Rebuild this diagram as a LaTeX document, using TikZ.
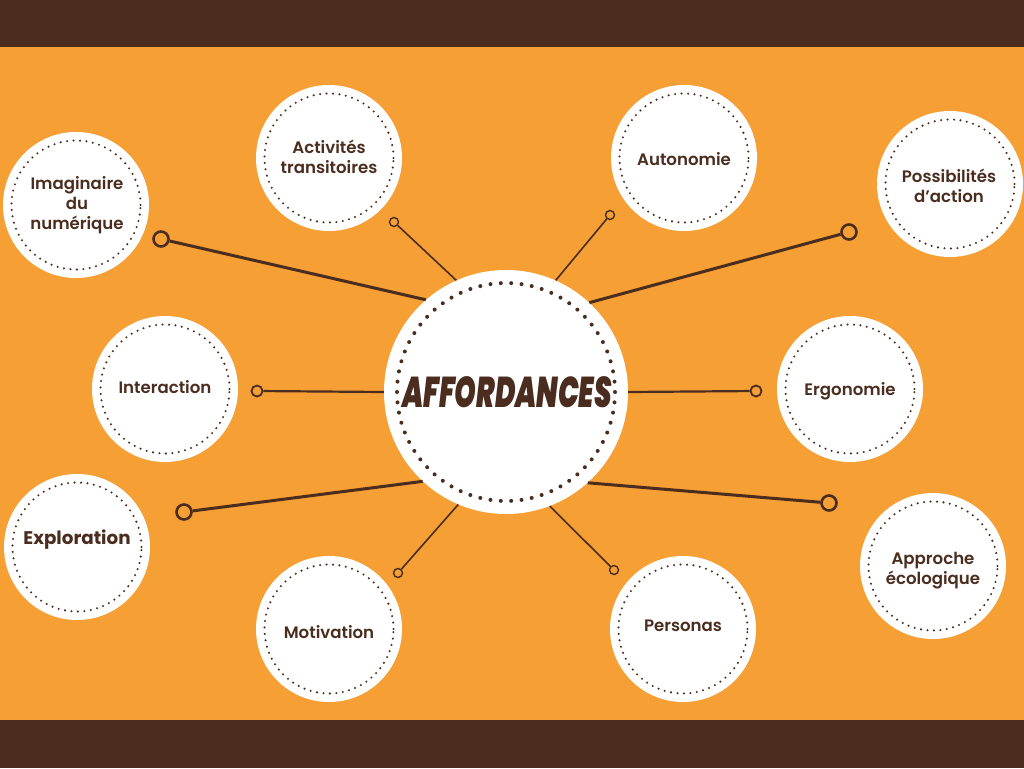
\documentclass[tikz,border=0pt]{standalone}
\usepackage{fontspec}
\usepackage{graphicx}
\setmainfont{Poppins}[UprightFont=*-Medium, BoldFont=*-SemiBold]
\newfontfamily\heavyfont{Poppins}[UprightFont=*-Bold]
\newfontfamily\brushfont{Poppins}[UprightFont=*-BlackItalic]
\definecolor{bark}{HTML}{4B2D1F}
\definecolor{amber}{HTML}{F59F34}

\begin{document}
\begin{tikzpicture}[x=1pt,y=-1pt,
  bubble/.style={circle, fill=white, minimum size=146pt, inner sep=0pt},
  caption/.style={align=center, text=bark, inner sep=0pt,
    font=\bfseries\fontsize{16.6}{19.8}\selectfont},
  hub/.style={circle, fill=white, minimum size=244pt, inner sep=0pt},
  ring/.style={draw=bark, line width=2.3pt, line cap=round, dash pattern=on 0pt off 6.486pt},
  hubring/.style={draw=bark, line width=4pt, line cap=round, dash pattern=on 0pt off 10.377pt},
  heavyspoke/.style={draw=bark, line width=3pt},
  midspoke/.style={draw=bark, line width=2.2pt},
  lightspoke/.style={draw=bark, line width=1.6pt},
  bigknob/.style={circle, draw=bark, line width=2.6pt, fill=amber, minimum size=15pt, inner sep=0pt},
  midknob/.style={circle, draw=bark, line width=1.8pt, fill=amber, minimum size=11pt, inner sep=0pt},
  smallknob/.style={circle, draw=bark, line width=1.4pt, fill=amber, minimum size=9pt, inner sep=0pt},
]
\useasboundingbox (0,0) rectangle (1024,768);

% background bands
\fill[amber] (0,47) rectangle (1024,720);
\fill[bark] (0,0) rectangle (1024,47);
\fill[bark] (0,720) rectangle (1024,768);

% central hub
\node[hub] (hub) at (506,392) {};
\draw[hubring] (hub.center) circle[radius=109pt];
\node[text=bark, font=\brushfont\fontsize{43}{43}\selectfont] (title) at (507,392)
  {\scalebox{0.64}[1]{AFFORDANCES}};

% satellite bubbles
\node[bubble] (imag)  at (76,205)  {};
\node[bubble] (activ) at (329,158) {};
\node[bubble] (auto)  at (684,158) {};
\node[bubble] (poss)  at (950,184) {};
\node[bubble] (inter) at (165,389) {};
\node[bubble] (ergo)  at (850,389) {};
\node[bubble] (explo) at (77,547)  {};
\node[bubble] (motiv) at (329,629) {};
\node[bubble] (perso) at (683,629) {};
\node[bubble] (appro) at (933,566) {};

\foreach \b in {imag,activ,auto,poss,inter,ergo,explo,motiv,perso,appro}
  \draw[ring] (\b.center) circle[radius=64.5pt];

% bubble captions
\node[caption] (imag-t)  at (77,205)  {Imaginaire\\du\\numérique};
\node[caption] (activ-t) at (329,157) {Activités\\transitoires};
\node[caption] (auto-t)  at (684,159) {Autonomie};
\node[caption] (poss-t)  at (949,186) {Possibilités\\d\char"0027 action};
\node[caption] (inter-t) at (165,387) {Interaction};
\node[caption] (ergo-t)  at (850,391) {Ergonomie};
\node[caption, font=\heavyfont\fontsize{18.3}{22}\selectfont] (explo-t) at (77,540) {Exploration};
\node[caption] (motiv-t) at (329,632) {Motivation};
\node[caption] (perso-t) at (683,626) {Personas};
\node[caption] (appro-t) at (933,571) {Approche\\écologique};

% spoke end knobs
\node[bigknob]   (k1)  at (161,239) {};
\node[smallknob] (k2)  at (394,222) {};
\node[smallknob] (k3)  at (610,215) {};
\node[bigknob]   (k4)  at (849,232) {};
\node[midknob]   (k5)  at (257,391) {};
\node[midknob]   (k6)  at (756,391) {};
\node[bigknob]   (k7)  at (184,512) {};
\node[smallknob] (k8)  at (398,573) {};
\node[smallknob] (k9)  at (614,570) {};
\node[bigknob]   (k10) at (829,503) {};

% spokes
\draw[heavyspoke] (k1)  -- (hub.131.4);
\draw[lightspoke] (k2)  -- (hub.114.9);
\draw[lightspoke] (k3)  -- (hub.66.4);
\draw[heavyspoke] (k4)  -- (hub.47.9);
\draw[midspoke]   (k5)  -- (hub.180);
\draw[midspoke]   (k6)  -- (hub.0);
\draw[heavyspoke] (k7)  -- (hub.227.6);
\draw[lightspoke] (k8)  -- (hub.247.2);
\draw[lightspoke] (k9)  -- (hub.291.8);
\draw[heavyspoke] (k10) -- (hub.312.7);
\end{tikzpicture}
\end{document}
